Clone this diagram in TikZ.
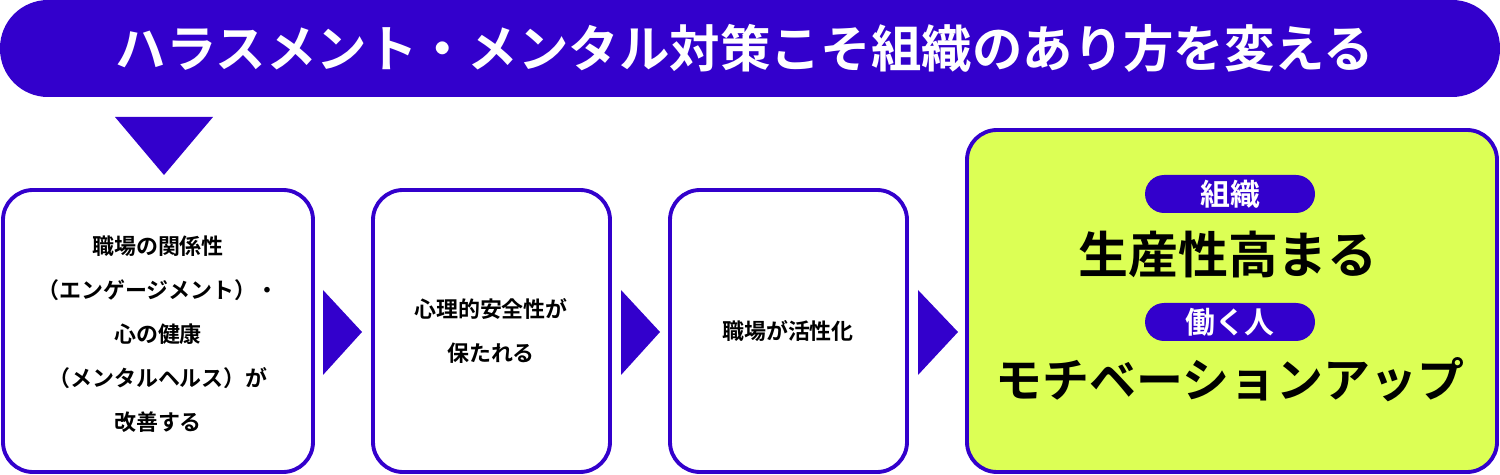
\documentclass[tikz,border=0pt]{standalone}
\usepackage{fontspec}
\setmainfont{Noto Sans CJK JP}[BoldFont={* Bold}]
\definecolor{vio}{HTML}{3300CC}
\definecolor{lime}{HTML}{DCFF55}
\begin{document}
\begin{tikzpicture}[x=0.02cm,y=-0.02cm,
  box/.style={draw=vio,line width=2.2pt,rounded corners=0.6cm,fill=white},
  tri/.style={fill=vio},
  small/.style={font=\bfseries\fontsize{12.5}{25}\selectfont,align=center},
  big/.style={font=\bfseries\fontsize{28.4}{28}\selectfont},
  pill/.style={fill=vio,text=white,rounded corners=0.38cm,minimum width=3.4cm,minimum height=0.76cm,font=\bfseries\fontsize{17}{17}\selectfont,inner sep=0}]
\useasboundingbox (0,0) rectangle (1500,475);
\fill[vio,rounded corners=0.96cm] (0,0) rectangle (1500,97);
\node[text=white,font=\bfseries\fontsize{28.7}{28}\selectfont] (title) at (745,48) {ハラスメント・メンタル対策こそ組織のあり方を変える};
\fill[tri] (115,117) -- (213,117) -- (164,175) -- cycle;
\draw[box] (3,190) rectangle (313,472);
\draw[box] (373,190) rectangle (610,472);
\draw[box] (670,190) rectangle (907,472);
\draw[box,fill=lime] (967,130) rectangle (1497,472);
\node[small] (t1) at (158,334) {職場の関係性\\（エンゲージメント）・\\心の健康\\（メンタルヘルス）が\\改善する};
\node[small] (t2) at (491,331) {心理的安全性が\\保たれる};
\node[small] (t3) at (788,331) {職場が活性化};
\fill[tri] (323,290) -- (323,375) -- (362,332) -- cycle;
\fill[tri] (621,290) -- (621,375) -- (660,332) -- cycle;
\fill[tri] (918,290) -- (918,375) -- (958,332) -- cycle;
\node[pill] (p1) at (1230,194) {組織};
\node[big] (g1) at (1228,255) {生産性高まる};
\node[pill] (p2) at (1230,322) {働く人};
\node[big,font=\bfseries\fontsize{26.7}{27}\selectfont] (g2) at (1230,380) {モチベーションアップ};
\end{tikzpicture}
\end{document}
